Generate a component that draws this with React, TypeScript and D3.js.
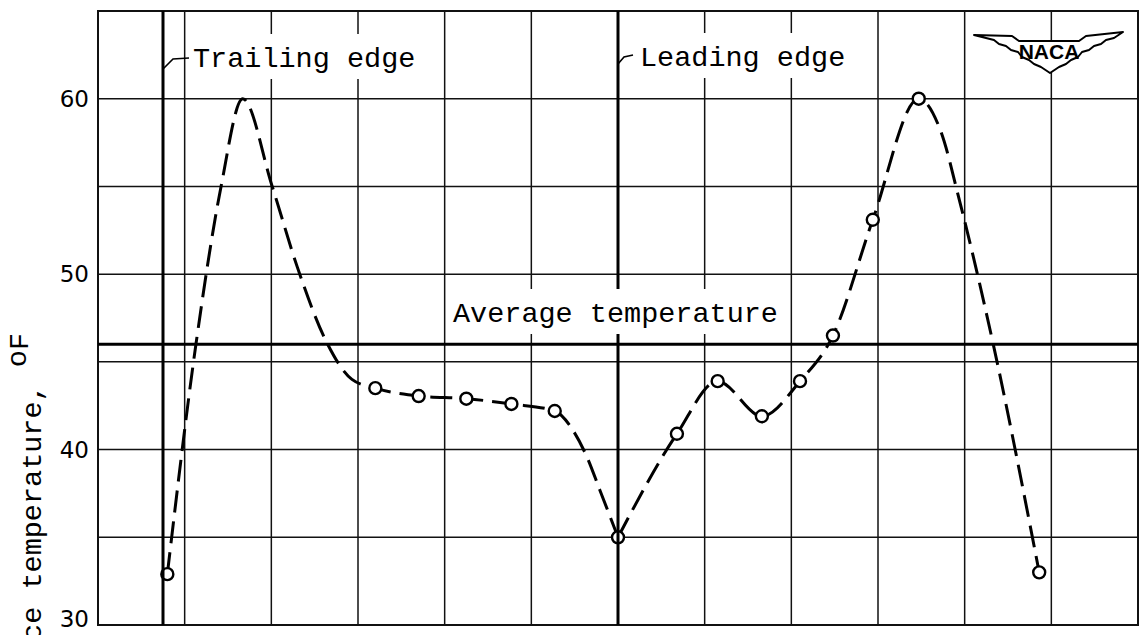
import React, { useEffect, useRef } from 'react';
import * as d3 from 'd3';

// chordwise stations (grid columns) and temperature grid, deg F
const gridStations = [0, 1, 2, 3, 4, 5, 6, 7, 8, 9, 10, 11, 12];
const gridTemps = [30, 35, 40, 45, 50, 55, 60, 65];
const tickLabels = [30, 40, 50, 60];

const trailingEdge = 0.75;
const leadingEdge = 6.0;
const averageTemp = 46.0;

// measured points (circles)
const pointStation = [0.8, 3.2, 3.7, 4.25, 4.77, 5.27, 6.0, 6.68, 7.15, 7.66, 8.1, 8.48, 8.94, 9.47, 10.86];
const pointTemp = [32.9, 43.5, 43.05, 42.9, 42.6, 42.2, 35.0, 40.9, 43.9, 41.9, 43.9, 46.5, 53.1, 60.0, 33.0];

// faired dashed curve, aft part (trailing edge -> leading edge)
const aftStation = [0.8, 1.13, 1.42, 1.67, 2.01, 2.3, 2.64, 2.93, 3.2, 3.7, 4.25, 4.77, 5.27, 5.48, 5.64, 5.79, 6.0];
const aftTemp = [32.9, 46.0, 55.0, 60.0, 55.0, 50.4, 46.1, 44.0, 43.5, 43.05, 42.9, 42.6, 42.2, 41.1, 39.6, 37.7, 35.0];

// faired dashed curve, forward part
const foreStation = [6.0, 6.68, 7.15, 7.66, 8.1, 8.48, 8.94, 9.47, 9.72, 9.95, 10.33, 10.86];
const foreTemp = [35.0, 40.9, 43.9, 41.9, 43.9, 46.5, 53.1, 60.0, 58.2, 54.0, 46.0, 33.0];

const App = () => {
    const ref = useRef(null);

    useEffect(() => {
        drawChart();
    }, []);

    const drawChart = () => {
        const width = 1142, height = 635;
        const left = 98, right = 1138, top = 11, bottom = 625;
        const mono = "'Liberation Mono', 'Courier New', monospace";
        const fs = 28.5;
        const cw = fs * 0.6;

        const svg = d3.select(ref.current)
            .attr('width', width)
            .attr('height', height);
        svg.selectAll('*').remove();

        svg.append('rect').attr('width', width).attr('height', height).style('fill', 'white');

        const x = d3.scaleLinear().domain([0, 12]).range([left, right]);
        const y = d3.scaleLinear().domain([30, 65]).range([bottom, top]);

        // grid
        svg.selectAll('.vgrid').data(gridStations).enter().append('line')
            .attr('x1', d => x(d)).attr('x2', d => x(d))
            .attr('y1', top).attr('y2', bottom)
            .attr('stroke', '#111').attr('stroke-width', 1.5);
        svg.selectAll('.hgrid').data(gridTemps).enter().append('line')
            .attr('x1', left).attr('x2', right)
            .attr('y1', d => y(d)).attr('y2', d => y(d))
            .attr('stroke', '#111').attr('stroke-width', 1.5);
        svg.append('rect')
            .attr('x', left).attr('y', top)
            .attr('width', right - left).attr('height', bottom - top)
            .attr('fill', 'none').attr('stroke', '#111').attr('stroke-width', 2);

        // faired curves
        const line = d3.line()
            .x(d => x(d[0]))
            .y(d => y(d[1]))
            .curve(d3.curveMonotoneX);
        const aft = aftStation.map((s, i) => [s, aftTemp[i]]);
        const fore = foreStation.map((s, i) => [s, foreTemp[i]]);
        [aft, fore].forEach(pts => {
            svg.append('path')
                .attr('d', line(pts))
                .attr('fill', 'none')
                .attr('stroke', '#000')
                .attr('stroke-width', 3)
                .attr('stroke-dasharray', '22 9');
        });

        // data circles
        svg.selectAll('.pt').data(pointStation).enter().append('circle')
            .attr('cx', d => x(d))
            .attr('cy', (d, i) => y(pointTemp[i]))
            .attr('r', 6)
            .attr('fill', 'white')
            .attr('stroke', '#000')
            .attr('stroke-width', 2.4);

        // trailing / leading edge lines
        [trailingEdge, leadingEdge].forEach(s => {
            svg.append('line')
                .attr('x1', x(s)).attr('x2', x(s))
                .attr('y1', top).attr('y2', bottom)
                .attr('stroke', '#000').attr('stroke-width', 3);
        });

        // labels with white boxes
        const labels = [
            { text: 'Trailing edge', x: 193, y: 67 },
            { text: 'Leading edge', x: 640, y: 66 },
            { text: 'Average temperature', x: 453, y: 322 }
        ];
        labels.forEach(l => {
            svg.append('rect')
                .attr('x', l.x - 5).attr('y', l.y - 33)
                .attr('width', l.text.length * cw + 8).attr('height', 45)
                .attr('fill', 'white');
            svg.append('text')
                .attr('x', l.x).attr('y', l.y)
                .style('font-family', mono)
                .style('font-size', fs + 'px')
                .attr('fill', '#000')
                .text(l.text);
        });

        // average temperature line (drawn after the label box)
        svg.append('line')
            .attr('x1', left).attr('x2', right)
            .attr('y1', y(averageTemp)).attr('y2', y(averageTemp))
            .attr('stroke', '#000').attr('stroke-width', 3);

        // leader hooks
        svg.append('path')
            .attr('d', `M${x(trailingEdge)},69 L${x(trailingEdge) + 10},59 L${x(trailingEdge) + 26},58`)
            .attr('fill', 'none').attr('stroke', '#000').attr('stroke-width', 1.6);
        svg.append('path')
            .attr('d', `M${x(leadingEdge)},64 L${x(leadingEdge) + 6},57 L${x(leadingEdge) + 15},55`)
            .attr('fill', 'none').attr('stroke', '#000').attr('stroke-width', 1.6);

        // y tick labels
        svg.selectAll('.ytick').data(tickLabels).enter().append('text')
            .attr('x', 89)
            .attr('y', d => Math.min(y(d), 619))
            .attr('text-anchor', 'end')
            .attr('dominant-baseline', 'central')
            .style('font-family', "'DejaVu Sans', sans-serif")
            .style('font-size', '23px')
            .attr('fill', '#000')
            .text(d => d);

        // y axis title (runs off the bottom edge, as in the original)
        const yt = svg.append('text')
            .attr('transform', 'translate(41,333) rotate(-90)')
            .attr('text-anchor', 'end')
            .style('font-family', mono)
            .style('font-size', fs + 'px')
            .attr('fill', '#000');
        yt.append('tspan').text('Surface temperature, ');
        yt.append('tspan').attr('dy', -15).text('o');
        yt.append('tspan').attr('dy', 2).text('F');

        // NACA logo
        const logo = svg.append('g');
        logo.append('path')
            .attr('d', 'M974,35 L1012,36 L1019,41 L1079,41 L1086,36 L1123,32 L1114,38 L1106,40 L1101,44 L1094,46 L1089,50 L1082,52 L1078,57 L1071,60 L1066,64 L1059,67 L1050,73 L1041,67 L1034,64 L1029,60 L1022,57 L1018,52 L1011,50 L1006,46 L999,44 L994,40 L986,38 Z')
            .attr('fill', 'white').attr('stroke', '#000').attr('stroke-width', 2)
            .attr('stroke-linejoin', 'round');
        logo.append('text')
            .attr('x', 1049).attr('y', 59)
            .attr('text-anchor', 'middle')
            .style('font-family', "'Liberation Sans', Arial, sans-serif")
            .style('font-weight', 'bold')
            .style('font-size', '21px')
            .attr('fill', '#000')
            .text('NACA');
    };

    return <svg ref={ref} style={{ position: 'absolute', left: 0, top: 0 }}></svg>;
};

export default App;
